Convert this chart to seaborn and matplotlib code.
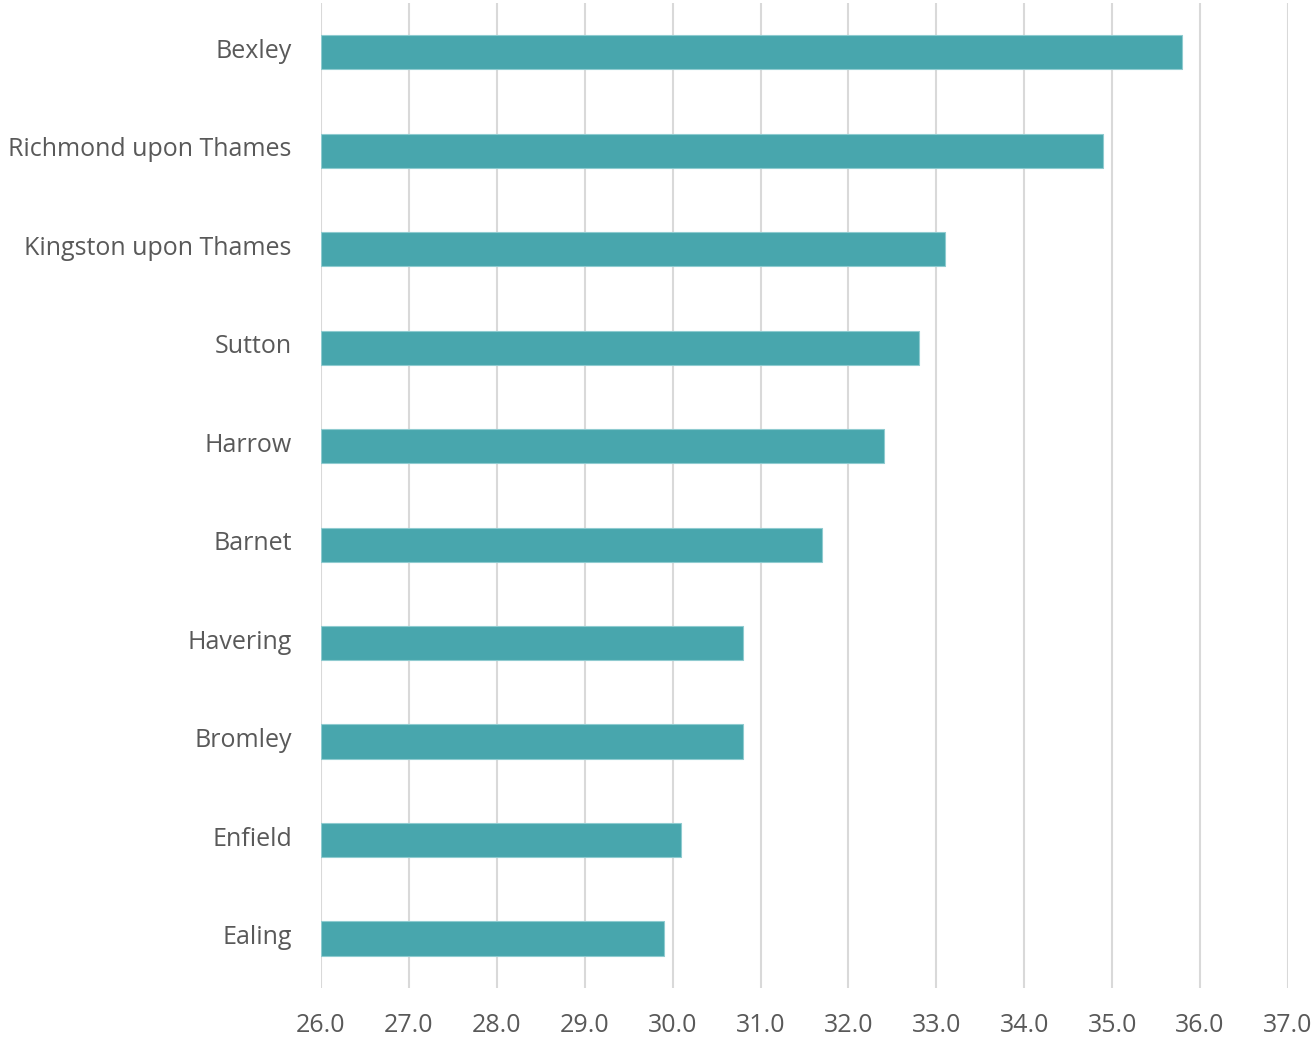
import matplotlib
matplotlib.use("Agg")
import matplotlib.pyplot as plt
import matplotlib.transforms as mtransforms
import seaborn as sns
import pandas as pd

boroughs = ["Bexley", "Richmond upon Thames", "Kingston upon Thames", "Sutton",
            "Harrow", "Barnet", "Havering", "Bromley", "Enfield", "Ealing"]
values = [35.8, 34.9, 33.1, 32.8, 32.4, 31.7, 30.8, 30.8, 30.1, 29.9]
x_ticks = [26.0, 27.0, 28.0, 29.0, 30.0, 31.0, 32.0, 33.0, 34.0, 35.0, 36.0, 37.0]

df = pd.DataFrame({"borough": boroughs, "value": values})

sns.set_style("white")
plt.rcParams["font.family"] = ["Open Sans", "DejaVu Sans"]

fig = plt.figure(figsize=(13.16, 10.38), dpi=100)
ax = fig.add_axes([0.2439, 0.0482, 0.7348, 0.9489])

sns.barplot(data=df, y="borough", x="value", orient="h", color="#48A6AD",
            saturation=1, width=0.35, edgecolor="#8fcbd0", linewidth=0.8, ax=ax)

# bars start at the left edge of the axis (26.0)
for p in ax.patches:
    w = p.get_width()
    p.set_x(x_ticks[0])
    p.set_width(w - x_ticks[0])

ax.set_xlim(x_ticks[0], x_ticks[-1])
ax.set_ylim(len(boroughs) - 0.5, -0.5)
ax.set_xticks(x_ticks)
ax.set_xticklabels([f"{t:.1f}" for t in x_ticks])
ax.set_axisbelow(True)
ax.xaxis.grid(True, color="#d9d9d9", linewidth=1.5)
ax.yaxis.grid(False)
for s in ax.spines.values():
    s.set_visible(False)
ax.tick_params(axis="both", length=0, labelsize=18, labelcolor="#595959")
ax.tick_params(axis="x", pad=18)
ax.tick_params(axis="y", pad=21)
ax.set_xlabel("")
ax.set_ylabel("")

# category labels sit a touch above the bar centres
shift = mtransforms.ScaledTranslation(0, 4 / 100, fig.dpi_scale_trans)
for lbl in ax.get_yticklabels():
    lbl.set_transform(lbl.get_transform() + shift)

fig.savefig("out.png", dpi=100)
